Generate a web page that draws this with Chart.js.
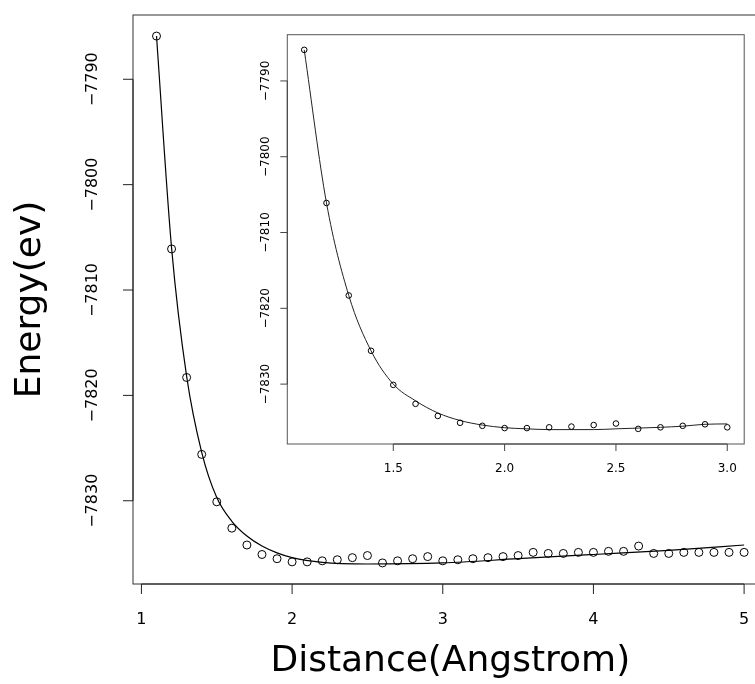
<!DOCTYPE html>
<html lang="en">
<head>
<meta charset="UTF-8">
<title>Energy vs Distance</title>
<script src="https://cdn.jsdelivr.net/npm/chart.js"></script>
<style>
  html, body { margin: 0; padding: 0; background: #fff; overflow: hidden; }
  #wrap { position: relative; width: 755px; height: 684px; overflow: hidden; background: #fff; }
  #main { position: absolute; left: 0; top: 0; }
  #inset { position: absolute; left: 230px; top: 20px; }
</style>
</head>
<body>
<div id="wrap">
  <canvas id="main" width="780" height="684"></canvas>
  <canvas id="inset" width="525" height="470"></canvas>
</div>
<script>
// values
const distance = [1.1, 1.2, 1.3, 1.4, 1.5, 1.6, 1.7, 1.8, 1.9, 2.0,
                  2.1, 2.2, 2.3, 2.4, 2.5, 2.6, 2.7, 2.8, 2.9, 3.0,
                  3.1, 3.2, 3.3, 3.4, 3.5, 3.6, 3.7, 3.8, 3.9, 4.0,
                  4.1, 4.2, 4.3, 4.4, 4.5, 4.6, 4.7, 4.8, 4.9, 5.0];
const energy = [-7785.9, -7806.1, -7818.3, -7825.6, -7830.1, -7832.6, -7834.2, -7835.1, -7835.5, -7835.8,
                -7835.8, -7835.7, -7835.6, -7835.4, -7835.2, -7835.9, -7835.7, -7835.5, -7835.3, -7835.7,
                -7835.6, -7835.5, -7835.4, -7835.3, -7835.2, -7834.9, -7835.0, -7835.0, -7834.9, -7834.9,
                -7834.8, -7834.8, -7834.3, -7835.0, -7835.0, -7834.9, -7834.9, -7834.9, -7834.9, -7834.9];

// smooth fit drawn over the full range
const fitDistance = [1.1, 1.2, 1.3, 1.4, 1.5, 1.6, 1.7, 1.8, 1.9, 2.0, 2.2, 2.5, 3.0, 3.5, 4.0, 4.5, 5.0];
const fitEnergy = [-7785.9, -7806.0, -7818.2, -7825.4, -7829.7, -7831.95, -7833.35, -7834.3, -7834.95, -7835.4,
                   -7835.85, -7836.0, -7835.9, -7835.5, -7835.1, -7834.7, -7834.2];

// inset: first 20 points and a closer fit
const insetDistance = distance.slice(0, 20);
const insetEnergy = energy.slice(0, 20);
const insetFitEnergy = [-7785.9, -7806.1, -7818.3, -7825.6, -7830.0, -7832.2, -7833.8, -7834.8, -7835.4, -7835.75,
                        -7835.9, -7836.0, -7836.0, -7836.0, -7835.9, -7835.8, -7835.7, -7835.55, -7835.3, -7835.25];

const xTicks = [1, 2, 3, 4, 5];
const yTicks = [-7790, -7800, -7810, -7820, -7830];
const insetXTicks = [1.5, 2.0, 2.5, 3.0];

const pts = (xs, ys) => xs.map((x, i) => ({ x: x, y: ys[i] }));
const minus = v => (v < 0 ? '\u2212' : '') + Math.abs(v);

// R-like box, outward ticks, tick labels and axis titles
const rAxes = {
  id: 'rAxes',
  afterDraw(chart, args, o) {
    const ctx = chart.ctx, a = chart.chartArea;
    const xs = chart.scales.x, ys = chart.scales.y;
    ctx.save();
    ctx.lineWidth = 1;
    ctx.strokeStyle = o.boxColor;
    ctx.strokeRect(a.left, a.top, a.right - a.left, a.bottom - a.top);

    ctx.strokeStyle = o.axisColor;
    ctx.beginPath();
    const x0 = xs.getPixelForValue(o.xTicks[0]), x1 = xs.getPixelForValue(o.xTicks[o.xTicks.length - 1]);
    ctx.moveTo(x0, a.bottom); ctx.lineTo(x1, a.bottom);
    o.xTicks.forEach(v => {
      const px = xs.getPixelForValue(v);
      ctx.moveTo(px, a.bottom); ctx.lineTo(px, a.bottom + o.tickLen);
    });
    const y0 = ys.getPixelForValue(o.yTicks[0]), y1 = ys.getPixelForValue(o.yTicks[o.yTicks.length - 1]);
    ctx.moveTo(a.left, y0); ctx.lineTo(a.left, y1);
    o.yTicks.forEach(v => {
      const py = ys.getPixelForValue(v);
      ctx.moveTo(a.left, py); ctx.lineTo(a.left - o.tickLen, py);
    });
    ctx.stroke();

    ctx.fillStyle = '#000';
    ctx.font = o.tickFont + 'px "DejaVu Sans"';
    ctx.textAlign = 'center';
    ctx.textBaseline = 'alphabetic';
    o.xTicks.forEach((v, i) => {
      ctx.fillText(o.xLabels[i], xs.getPixelForValue(v), a.bottom + o.xLabelOff);
    });
    o.yTicks.forEach(v => {
      ctx.save();
      ctx.translate(a.left - o.yLabelOff, ys.getPixelForValue(v));
      ctx.rotate(-Math.PI / 2);
      ctx.fillText(minus(v), 0, 0);
      ctx.restore();
    });

    if (o.xTitle) {
      ctx.font = o.titleFont + 'px "DejaVu Sans"';
      ctx.fillText(o.xTitle, (a.left + a.right) / 2, o.xTitleY);
      ctx.save();
      ctx.translate(o.yTitleX, (a.top + a.bottom) / 2);
      ctx.rotate(-Math.PI / 2);
      ctx.fillText(o.yTitle, 0, 0);
      ctx.restore();
    }
    ctx.restore();
  }
};

function fixedSize(w, h) {
  return {
    x: s => { s.height = h; },
    y: s => { s.width = w; }
  };
}

const mainSize = fixedSize(133, 100);
new Chart(document.getElementById('main'), {
  type: 'scatter',
  data: {
    datasets: [{
      data: pts(distance, energy),
      pointStyle: 'circle',
      pointRadius: 4,
      pointBorderWidth: 1,
      pointBorderColor: '#000',
      pointBackgroundColor: 'rgba(0,0,0,0)',
      showLine: false
    }, {
      data: pts(fitDistance, fitEnergy),
      showLine: true,
      pointRadius: 0,
      borderColor: '#000',
      borderWidth: 1.2,
      cubicInterpolationMode: 'monotone'
    }]
  },
  options: {
    responsive: false,
    animation: false,
    layout: { padding: { top: 15, right: 12.4, left: 0, bottom: 0 } },
    scales: {
      x: { type: 'linear', min: 0.944, max: 5.156, ticks: { display: false }, grid: { display: false }, border: { display: false }, afterFit: mainSize.x },
      y: { type: 'linear', min: -7837.9, max: -7783.9, ticks: { display: false }, grid: { display: false }, border: { display: false }, afterFit: mainSize.y }
    },
    plugins: {
      legend: { display: false },
      tooltip: { enabled: false },
      rAxes: {
        boxColor: '#333', axisColor: '#222', tickLen: 10,
        xTicks: xTicks, xLabels: xTicks.map(String), yTicks: yTicks,
        tickFont: 16, xLabelOff: 39.5, yLabelOff: 36,
        titleFont: 36, xTitle: 'Distance(Angstrom)', xTitleY: 671,
        yTitle: 'Energy(ev)', yTitleX: 40
      }
    }
  },
  plugins: [rAxes]
});

const insetSize = fixedSize(57.3, 46);
new Chart(document.getElementById('inset'), {
  type: 'scatter',
  data: {
    datasets: [{
      data: pts(insetDistance, insetEnergy),
      pointStyle: 'circle',
      pointRadius: 2.8,
      pointBorderWidth: 1,
      pointBorderColor: '#000',
      pointBackgroundColor: 'rgba(0,0,0,0)',
      showLine: false
    }, {
      data: pts(insetDistance, insetFitEnergy),
      showLine: true,
      pointRadius: 0,
      borderColor: '#222',
      borderWidth: 1,
      cubicInterpolationMode: 'monotone'
    }]
  },
  options: {
    responsive: false,
    animation: false,
    layout: { padding: { top: 14.7, right: 10.8, left: 0, bottom: 0 } },
    scales: {
      x: { type: 'linear', min: 1.024, max: 3.076, ticks: { display: false }, grid: { display: false }, border: { display: false }, afterFit: insetSize.x },
      y: { type: 'linear', min: -7837.9, max: -7783.9, ticks: { display: false }, grid: { display: false }, border: { display: false }, afterFit: insetSize.y }
    },
    plugins: {
      legend: { display: false },
      tooltip: { enabled: false },
      rAxes: {
        boxColor: '#555', axisColor: '#444', tickLen: 7,
        xTicks: insetXTicks, xLabels: insetXTicks.map(v => v.toFixed(1)), yTicks: yTicks,
        tickFont: 12, xLabelOff: 28, yLabelOff: 18
      }
    }
  },
  plugins: [rAxes]
});
</script>
</body>
</html>
